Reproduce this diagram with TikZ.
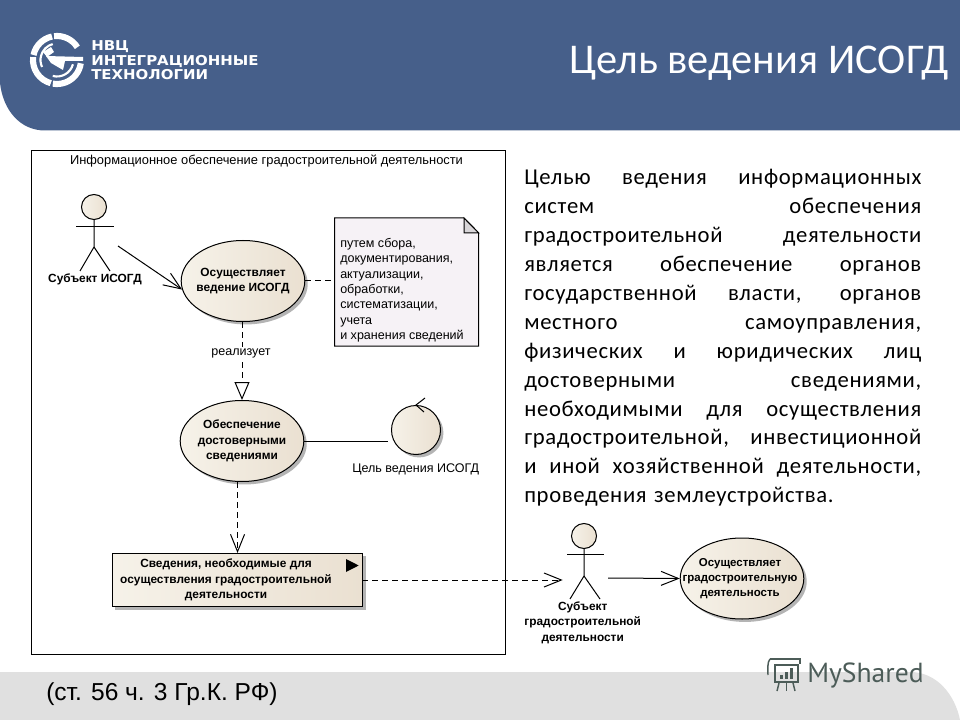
\documentclass[tikz,border=0pt]{standalone}
\usepackage{fontspec}
\setmainfont{Liberation Sans}
\newfontfamily\bodyfont{Carlito}
\newfontfamily\bodyspaced{Carlito}[LetterSpace=3]
\newfontfamily\logofont{DejaVu Sans}
\newfontfamily\brandfont{PT Sans}
\usetikzlibrary{arrows.meta,shapes.geometric,shadows}
\definecolor{headblue}{HTML}{465F8A}
\definecolor{footgray}{HTML}{E0E0E0}
\definecolor{creamL}{HTML}{F6F2E9}
\definecolor{creamR}{HTML}{EAE0D1}
\definecolor{shadowgray}{HTML}{B4B4B4}
\definecolor{notefill}{HTML}{F6F2F6}
\definecolor{foldfill}{HTML}{D8D5D8}
\definecolor{brand}{HTML}{4C5C58}
\newcommand{\bodyline}[1]{\hbox to 297.75pt{\spaceskip=.2em plus 1fil\relax #1}}
\tikzset{
  creamplain/.style={left color=creamL,right color=creamR,draw=black,line width=.75pt},
  cream/.style={creamplain,
    drop shadow={shadow xshift=2.2pt,shadow yshift=-2.2pt,fill=shadowgray,opacity=1}},
  ucase/.style={cream,ellipse,minimum width=92.7pt,minimum height=60.75pt,inner sep=0pt},
  boldtxt/.style={font=\fontsize{8.9}{11.5}\selectfont\bfseries,align=center,inner sep=0pt},
  plaintxt/.style={font=\fontsize{9.4}{11.5}\selectfont,inner sep=0pt},
  figure/.style={line width=.75pt},
  conn/.style={line width=.75pt},
  dashconn/.style={line width=.75pt,dash pattern=on 4.5pt off 3pt},
  barb/.style={-{Straight Barb[length=13pt,width=10.5pt]}},
}
\begin{document}
\begin{tikzpicture}[x=.75pt,y=-.75pt]
\useasboundingbox (0,0) rectangle (960,720);
\fill[white] (0,0) rectangle (960,720);
% header and footer bands
\fill[headblue] (0,0) -- (960,0) -- (960,130.5) -- (45,130.5) .. controls (20,130.5) and (3,110) .. (0,83) -- cycle;
\fill[footgray] (0,672) -- (910,672) .. controls (937,672) and (955,695) .. (960,720) -- (0,720) -- cycle;
% logo
\begin{scope}[shift={(57,60)},yscale=-1]
  \foreach \a/\b in {32/97,102/168,173/255,260/352}
    \draw[white,line width=4.6pt] (\a:24) arc[start angle=\a,end angle=\b,radius=24];
  \foreach \a/\b in {105/205,255/345}
    \draw[white,line width=1.6pt] (\a:16.5) arc[start angle=\a,end angle=\b,radius=16.5];
  \fill[white] (-11,4) -- (26,3) -- (26,-1) -- (8,-1) -- (6,-10) -- (-6,-3) -- cycle;
  \fill[white] (-14,8) -- (-6,13) -- (-3,8) -- (-10,3) -- cycle;
\end{scope}
\node[anchor=base west,inner sep=0pt,text=white] (lg1) at (91,51) {\scalebox{1.1}[1]{\logofont\fontsize{10.2}{12}\selectfont\bfseries НВЦ}};
\node[anchor=base west,inner sep=0pt,text=white] (lg2) at (91,65.5) {\scalebox{1.1}[1]{\logofont\fontsize{10.2}{12}\selectfont\bfseries ИНТЕГРАЦИОННЫЕ}};
\node[anchor=base west,inner sep=0pt,text=white] (lg3) at (91,80) {\scalebox{1.1}[1]{\logofont\fontsize{10.2}{12}\selectfont\bfseries ТЕХНОЛОГИИ}};
\node[anchor=east,inner sep=0pt,text=white,font=\bodyfont\fontsize{31.8}{36}\selectfont] (title) at (949,63) {Цель ведения ИСОГД};
% body paragraph
\node[anchor=north west,inner sep=0pt,text width=297.75pt,font=\bodyspaced\fontsize{17}{21.7}\selectfont] (body) at (524,169) {%
\bodyline{Целью ведения информационных}
\bodyline{систем обеспечения}
\bodyline{градостроительной деятельности}
\bodyline{является обеспечение органов}
\bodyline{государственной власти, органов}
\bodyline{местного самоуправления,}
\bodyline{физических и юридических лиц}
\bodyline{достоверными сведениями,}
\bodyline{необходимыми для осуществления}
\bodyline{градостроительной, инвестиционной}
\bodyline{и иной хозяйственной деятельности,}
\hbox{\spaceskip=.33em\relax проведения землеустройства.}};
% frame
\node[draw=black,line width=.75pt,anchor=north west,minimum width=355.5pt,minimum height=378pt,inner sep=0pt] (frame) at (30.5,150) {};
\node[font=\fontsize{9.65}{12}\selectfont,inner sep=0pt] (frametitle) at (266.5,161.5) {Информационное обеспечение градостроительной деятельности};
% actor 1
\node[creamplain,circle,minimum size=18.75pt,inner sep=0pt] (a1head) at (94,207) {};
\coordinate (a1hip) at (94,247);
\coordinate (a1out) at (118,246);
\draw[figure] (a1head.south) -- (a1hip) -- (80,271);
\draw[figure] (a1hip) -- (110,271);
\draw[figure] (76,227) -- (113.7,227);
\node[boldtxt] (a1lab) at (95,279.5) {Субъект ИСОГД};
% use case 1
\node[ucase] (uc1) at (243,281) {};
\node[boldtxt] (uc1t) at (243,281) {Осуществляет\\ведение ИСОГД};
% note
\fill[notefill] (334.5,218) -- (464,218) -- (478.7,233) -- (478.7,346) -- (334.5,346) -- cycle;
\node[anchor=north west,minimum width=108.2pt,minimum height=96pt,inner sep=0pt] (note) at (334.5,218) {};
\draw[line width=.75pt] (334.5,218) -- (464,218) -- (478.7,233) -- (478.7,346) -- (334.5,346) -- cycle;
\draw[line width=.75pt,fill=foldfill] (464,218) -- (478.7,233) -- (464,233) -- cycle;
\node[plaintxt,anchor=north west,align=left] (notet) at (340,238) {путем сбора,\\документирования,\\актуализации,\\обработки,\\систематизации,\\учета\\и хранения сведений};
% use case 2
\node[ucase] (uc2) at (242,441) {};
\node[boldtxt] (uc2t) at (242,441) {Обеспечение\\достоверными\\сведениями};
% goal
\node[cream,circle,minimum size=36.75pt,inner sep=0pt] (goal) at (416,430) {};
\draw[figure] (goal.90) ++(9,-7) -- (goal.90) -- ++(8,7);
\node[plaintxt] (goallab) at (415.7,469) {Цель ведения ИСОГД};
% class
\node[cream,rectangle,anchor=north west,minimum width=188pt,minimum height=40pt,inner sep=0pt] (cls) at (111.7,553) {};
\node[boldtxt] (clst) at (226,580) {Сведения, необходимые для\\осуществления градостроительной\\деятельности};
\fill[black] (346,559) -- (346,572) -- (358.7,565.5) -- cycle;
% actor 2
\node[creamplain,circle,minimum size=18.75pt,inner sep=0pt] (a2head) at (584,536) {};
\coordinate (a2hip) at (584,576);
\coordinate (a2in) at (562.7,580);
\coordinate (a2out) at (608,578);
\draw[figure] (a2head.south) -- (a2hip) -- (570,599);
\draw[figure] (a2hip) -- (600,599);
\draw[figure] (567,554.7) -- (604,554.7);
\node[boldtxt] (a2lab) at (582.7,622.5) {Субъект\\градостроительной\\деятельности};
% use case 3
\node[ucase] (uc3) at (742,578.5) {};
\node[boldtxt,font=\fontsize{8.6}{11.5}\selectfont\bfseries] (uc3t) at (740,578.5) {Осуществляет\\градостроительную\\деятельность};
% connectors
\draw[conn,barb] (a1out) -- (uc1.188);
\draw[dashconn] (uc1.east) -- (uc1.east -| note.west);
\draw[dashconn,-{Triangle[open,fill=white,length=13.5pt,width=11.25pt]}] (uc2.north |- uc1.south) -- (uc2.north);
\node[plaintxt,fill=white,inner sep=1pt] (real) at (241,353) {реализует};
\draw[conn] (uc2.east) -- (388,441);
\draw[dashconn,barb] (uc2.south -| cls.north) -- (cls.north);
\draw[dashconn,barb] (362.3,580) -- (a2in);
\draw[conn,barb] (a2out) -- (uc3.west);
% footer
\node[anchor=west,inner sep=0pt,font=\fontsize{18.4}{22}\selectfont] (ref) at (46,694) {(ст. 56 ч. 3 Гр.К. РФ)};
% brand
\node[anchor=west,inner sep=0pt,text=brand,font=\brandfont\fontsize{20.7}{24}\selectfont] (brandname) at (807,675) {MyShared};
\begin{scope}[brand,line width=1.1pt]
  \draw (775,665) rectangle (798,682);
  \draw (770,659) -- (800,659) -- (800,664);
  \draw (770,659) .. controls (767,662) and (768,670) .. (768,675);
  \draw (779,683) -- (777,691);
  \draw (786.5,683) -- (786.5,691);
  \draw (793,683) -- (795,691);
  \fill (780,675) rectangle (783,679);
  \fill (785,672) rectangle (788,679);
  \fill (790,668) rectangle (793,679);
\end{scope}
\end{tikzpicture}
\end{document}
